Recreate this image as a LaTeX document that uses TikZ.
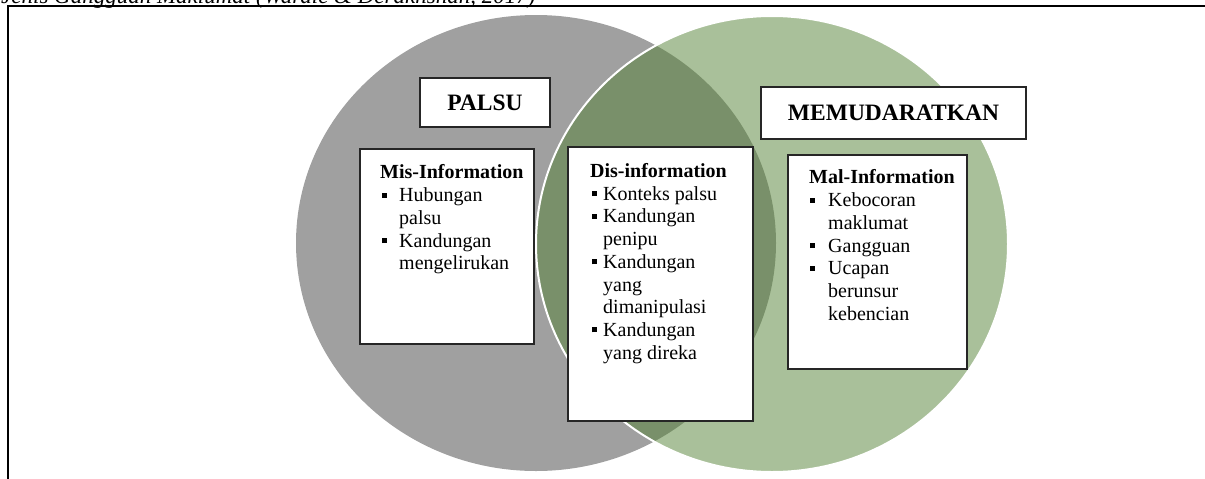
\documentclass[tikz,border=0pt]{standalone}
\usepackage{fontspec}
\setmainfont{Liberation Serif}
\usetikzlibrary{shapes.geometric}
\definecolor{cgray}{RGB}{160,160,160}
\definecolor{cgreen}{RGB}{84,130,53}
\newcommand\sqb{\raisebox{4pt}{\rule{5pt}{5pt}}}
\newcommand\bit[2]{\makebox[#2][l]{\hspace*{#1}\sqb}}
\begin{document}
\begin{tikzpicture}[x=1pt,y=-1pt,
  infobox/.style={draw=black!85, line width=1.2pt, fill=white, inner sep=0pt},
  titlebox/.style={draw=black!85, line width=1.2pt, fill=white, inner sep=0pt,
    font=\bfseries\fontsize{23.5}{28}\selectfont},
  body/.style={anchor=base west, inner sep=0pt, font=\fontsize{20}{22.7}\selectfont},
  setshape/.style={ellipse, inner sep=0pt, outer sep=0pt}]
\useasboundingbox (0,0) rectangle (1205,479);
% caption (cut at the top)
\node[anchor=base west, inner sep=0pt, font=\itshape\fontsize{23}{27}\selectfont] (caption) at (1,3)
  {Jenis Gangguan Maklumat (Wardle \& Derakhshan, 2017)};
% frame
\draw[line width=2.3pt] (7.8,482) -- (7.8,6.2) -- (1208,6.2);
% sets
\node[setshape, fill=cgray, minimum width=480pt, minimum height=456pt] (palsuset) at (536,243) {};
\node[setshape, fill=cgreen, fill opacity=0.5, draw=white, draw opacity=1, line width=2pt,
  minimum width=472pt, minimum height=456pt] (mudaratset) at (772,244) {};
% title boxes
\node[titlebox, minimum width=130pt, minimum height=49pt] (palsu) at (485,102.5) {PALSU};
\node[titlebox, minimum width=265pt, minimum height=52pt] (mudarat) at (893.5,113) {MEMUDARATKAN};
% info boxes
\node[infobox, minimum width=174pt, minimum height=195pt] (misbox) at (447,246.5) {};
\node[infobox, minimum width=185pt, minimum height=274pt] (disbox) at (660.5,284) {};
\node[infobox, minimum width=179pt, minimum height=214pt] (malbox) at (877.5,262) {};
% contents
\node[body] (mistext) at (380,178) {\begin{tabular}[t]{@{}l@{}}
\textbf{Mis-Information}\\[1pt]
\bit{2pt}{19pt}Hubungan\\
\hspace*{19pt}palsu\\
\bit{2pt}{19pt}Kandungan\\
\hspace*{19pt}mengelirukan
\end{tabular}};
\node[body] (distext) at (590,177) {\begin{tabular}[t]{@{}l@{}}
\textbf{Dis-information}\\[0.5pt]
\bit{2pt}{13pt}Konteks palsu\\
\bit{2pt}{13pt}Kandungan\\
\hspace*{13pt}penipu\\
\bit{2pt}{13pt}Kandungan\\
\hspace*{13pt}yang\\
\hspace*{13pt}dimanipulasi\\
\bit{2pt}{13pt}Kandungan\\
\hspace*{13pt}yang direka
\end{tabular}};
\node[body] (maltext) at (809,183) {\begin{tabular}[t]{@{}l@{}}
\textbf{Mal-Information}\\[1pt]
\bit{1pt}{19pt}Kebocoran\\
\hspace*{19pt}maklumat\\
\bit{1pt}{19pt}Gangguan\\
\bit{1pt}{19pt}Ucapan\\
\hspace*{19pt}berunsur\\
\hspace*{19pt}kebencian
\end{tabular}};
\end{tikzpicture}
\end{document}
